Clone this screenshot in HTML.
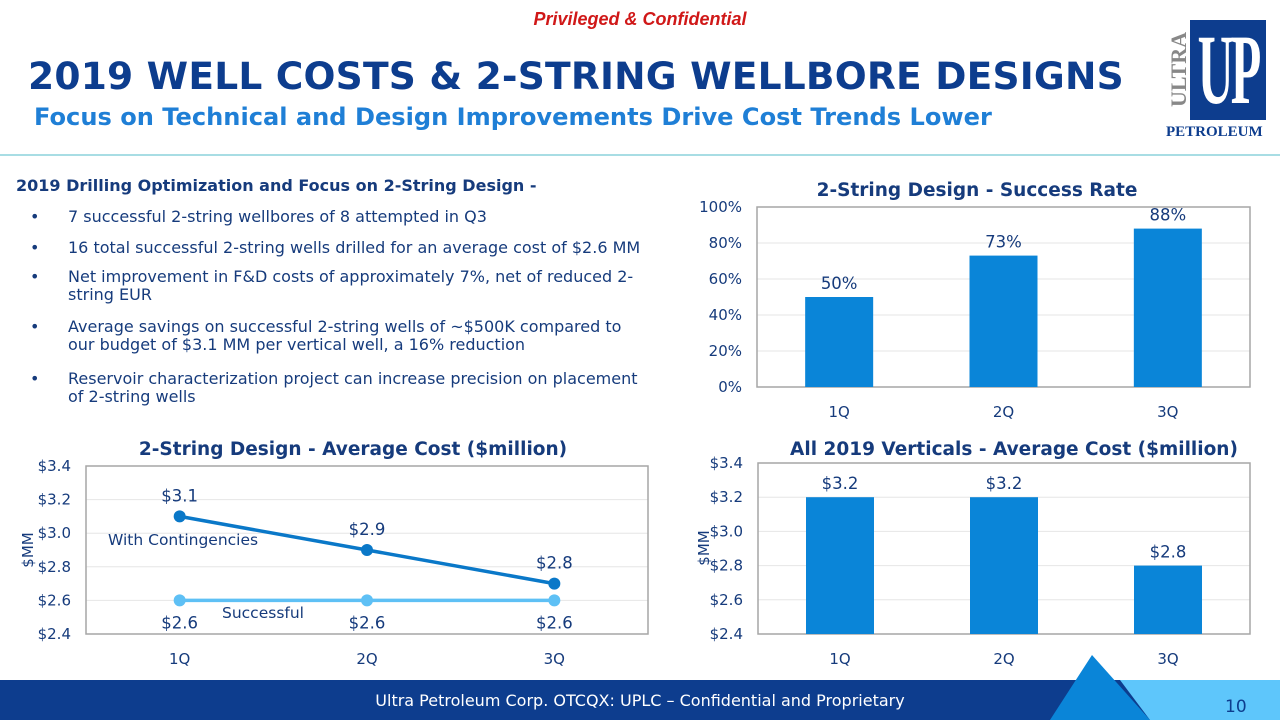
<!DOCTYPE html>
<html><head><meta charset="utf-8"><style>
body{margin:0;width:1280px;height:720px;position:relative;overflow:hidden;background:#fff;font-family:"DejaVu Sans","Liberation Sans",sans-serif;color:#123d80}
.a{position:absolute;white-space:nowrap}
.b{position:absolute;left:40px;font-size:16px;line-height:18px;color:#163b7c;white-space:nowrap}
.b span{position:absolute;left:-10px}
.b div{padding-left:28px}
</style></head><body>
<div class="a" style="left:0;width:1280px;text-align:center;top:9px;font:italic bold 18px 'Liberation Sans',sans-serif;color:#d01818">Privileged &amp; Confidential</div>
<div class="a" style="left:28px;top:54px;font-weight:bold;font-size:37.6px;color:#0d3d8e;letter-spacing:0.2px">2019 WELL COSTS &amp; 2-STRING WELLBORE DESIGNS</div>
<div class="a" style="left:34px;top:103px;font-weight:bold;font-size:24.1px;color:#1f7fd6">Focus on Technical and Design Improvements Drive Cost Trends Lower</div>
<div style="position:absolute;left:0;top:154px;width:1280px;height:2px;background:#a8dde4"></div>
<div style="position:absolute;left:1166px;top:18px;width:102px;height:130px;overflow:hidden">
 <div class="a" style="left:0;top:4px;width:22px;height:96px;font:bold 22px 'Liberation Serif',serif;color:#888;writing-mode:vertical-rl;transform:rotate(180deg);text-align:center">ULTRA</div>
 <div style="position:absolute;left:24px;top:2px;width:76px;height:100px;background:#0d3d8e;overflow:hidden"><div style="position:absolute;left:-30px;width:136px;top:-6px;color:#fff;font:bold 100px/112px 'Liberation Serif',serif;text-align:center;letter-spacing:-6px;transform:scaleX(0.5)">UP</div></div>
 <div class="a" style="left:0;top:106px;font:bold 15px 'Liberation Serif',serif;color:#0d3d8e">PETROLEUM</div>
</div>
<div class="a" style="left:16px;top:176px;font-weight:bold;font-size:16px;color:#163b7c">2019 Drilling Optimization and Focus on 2-String Design -</div>
<div class="b" style="top:208px"><span>•</span><div>7 successful 2-string wellbores of 8 attempted in Q3</div></div>
<div class="b" style="top:239px"><span>•</span><div>16 total successful 2-string wells drilled for an average cost of $2.6 MM</div></div>
<div class="b" style="top:268px"><span>•</span><div>Net improvement in F&amp;D costs of approximately 7%, net of reduced 2-<br>string EUR</div></div>
<div class="b" style="top:318px"><span>•</span><div>Average savings on successful 2-string wells of ~$500K compared to<br>our budget of $3.1 MM per vertical well, a 16% reduction</div></div>
<div class="b" style="top:370px"><span>•</span><div>Reservoir characterization project can increase precision on placement<br>of 2-string wells</div></div>

<svg id="ch" width="1280" height="720" style="position:absolute;left:0;top:0" font-family="DejaVu Sans, Liberation Sans, sans-serif"></svg>

<svg width="1280" height="70" style="position:absolute;left:0;top:650px">
 <rect x="0" y="30" width="1280" height="40" fill="#0d3d8e"/>
 <polygon points="1070,30 1280,30 1280,70 1150,70 1120,30" fill="#5ec6fb"/>
 <polygon points="1092,5 1050,70 1150,70" fill="#0a85d8"/>
</svg>
<div class="a" style="left:0;width:1280px;text-align:center;top:691px;font-size:16px;color:#fff">Ultra Petroleum Corp. OTCQX: UPLC – Confidential and Proprietary</div>
<div class="a" style="left:1225px;top:697px;font-size:17px;color:#0d3d8e">10</div>

<script>
const quarters=["1Q","2Q","3Q"];
const successRate=[50,73,88];
const successLabels=["50%","73%","88%"];
const successTicks=[0,20,40,60,80,100];
const withCont=[3.1,2.9,2.7];
const withContLabels=["$3.1","$2.9","$2.8"];
const successful=[2.6,2.6,2.6];
const successfulLabels=["$2.6","$2.6","$2.6"];
const costTicks=[2.4,2.6,2.8,3.0,3.2,3.4];
const allVert=[3.2,3.2,2.8];
const allVertLabels=["$3.2","$3.2","$2.8"];
const svg=document.getElementById('ch');
const NS="http://www.w3.org/2000/svg";
function mk(t,a,txt){const e=document.createElementNS(NS,t);for(const k in a)e.setAttribute(k,a[k]);if(txt!=null)e.textContent=txt;svg.appendChild(e);return e;}
function axes(x0,x1,y0,y1,vmin,vmax,ticks,fmt,name){
 const y=v=>y1-(v-vmin)/(vmax-vmin)*(y1-y0);
 const bw=(x1-x0)/quarters.length;const x=i=>x0+bw*(i+0.5);
 ticks.forEach(t=>{
  let g=mk('line',{x1:x0,x2:x1,y1:y(t),y2:y(t),stroke:'#e6e6e6'});
  
  let l=mk('text',{x:x0-15,y:y(t)+5,'text-anchor':'end','font-size':15,fill:'#163b7c'},fmt(t));
  
 });
 let r=mk('rect',{x:x0,y:y0,width:x1-x0,height:y1-y0,fill:'none',stroke:'#a6a6a6','stroke-width':1.5});
 
 quarters.forEach((q,i)=>{let t=mk('text',{x:x(i),y:y1+30,'text-anchor':'middle','font-size':15,fill:'#163b7c'},q);
  });
 return {x,y,bw};
}
function title(x,y,s,name){let t=mk('text',{x:x,y:y,'text-anchor':'middle','font-size':18.5,'font-weight':'bold',fill:'#163b7c'},s);
 }
const money=v=>'$'+v.toFixed(1);
title(977,196,'2-String Design - Success Rate','success-chart-title');
let A=axes(757,1250,207,387,0,100,successTicks,v=>v+'%','success');
successRate.forEach((v,i)=>{
 let b=mk('rect',{x:A.x(i)-34,y:A.y(v),width:68,height:A.y(0)-A.y(v),fill:'#0a85d8'});
 
 let l=mk('text',{x:A.x(i),y:A.y(v)-8,'text-anchor':'middle','font-size':16.5,fill:'#163b7c'},successLabels[i]);
 
});
title(353,455,'2-String Design - Average Cost ($million)','cost-chart-title');
let B=axes(86,648,466,634,2.4,3.4,costTicks,money,'cost');
let yl=mk('text',{x:0,y:0,transform:'translate(33,550) rotate(-90)','text-anchor':'middle','font-size':15,fill:'#163b7c'},'$MM');

function series(vals,labels,color,name,dy){
 let p=mk('polyline',{points:vals.map((v,i)=>B.x(i)+','+B.y(v)).join(' '),fill:'none',stroke:color,'stroke-width':3.5});
 
 vals.forEach((v,i)=>{let c=mk('circle',{cx:B.x(i),cy:B.y(v),r:6,fill:color});
  
  let t=mk('text',{x:B.x(i),y:B.y(v)+dy,'text-anchor':'middle','font-size':16.5,fill:'#163b7c'},labels[i]);
  });
}
series(withCont,withContLabels,'#0a78c8','with-contingencies',-15);
series(successful,successfulLabels,'#5ec0f5','successful',28);
let t1=mk('text',{x:108,y:545,'font-size':15.5,fill:'#163b7c'},'With Contingencies');

let t2=mk('text',{x:222,y:618,'font-size':15.5,fill:'#163b7c'},'Successful');

title(1014,455,'All 2019 Verticals - Average Cost ($million)','verticals-chart-title');
let C=axes(758,1250,463,634,2.4,3.4,costTicks,money,'verticals');
let yl2=mk('text',{x:0,y:0,transform:'translate(709,548) rotate(-90)','text-anchor':'middle','font-size':15,fill:'#163b7c'},'$MM');

allVert.forEach((v,i)=>{
 let b=mk('rect',{x:C.x(i)-34,y:C.y(v),width:68,height:C.y(2.4)-C.y(v),fill:'#0a85d8'});
 
 let l=mk('text',{x:C.x(i),y:C.y(v)-8,'text-anchor':'middle','font-size':16.5,fill:'#163b7c'},allVertLabels[i]);
 
});
</script>
</body></html>
